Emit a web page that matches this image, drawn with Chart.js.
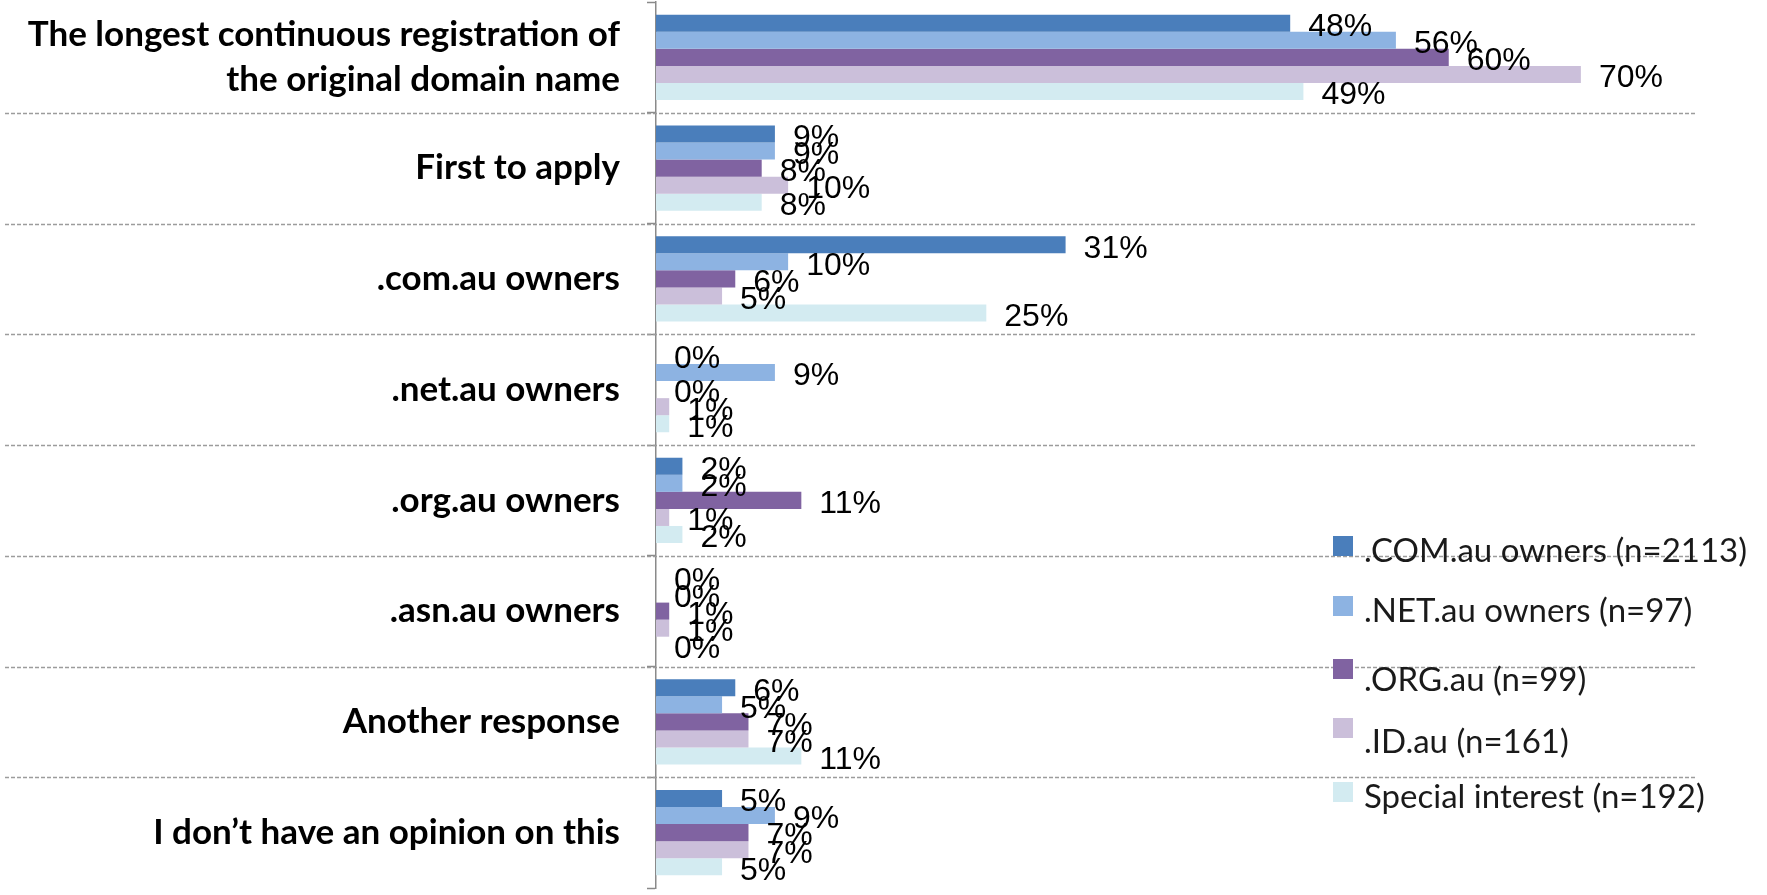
<!DOCTYPE html>
<html>
<head>
<meta charset="utf-8">
<script src="https://cdn.jsdelivr.net/npm/chart.js@4.4.1/dist/chart.umd.min.js"></script>
<style>
  html, body { margin: 0; padding: 0; background: #ffffff; }
  #wrap { position: relative; width: 1767px; height: 895px; overflow: hidden; }
  #chart { position: absolute; left: 0; top: 0; }
  #legend { position: absolute; left: 1333px; top: 0; font-family: Lato, "Open Sans", sans-serif; font-size: 33px; color: #1a1a1a; }
  #legend .row { position: absolute; left: 0; display: flex; align-items: center; height: 60px; white-space: nowrap; }
  #legend .box { width: 20px; height: 20px; margin-right: 11px; flex: none; position: relative; }
  #legend .row:nth-child(1) { top: 519px; }
  #legend .row:nth-child(2) { top: 579px; }
  #legend .row:nth-child(3) { top: 648px; }
  #legend .row:nth-child(4) { top: 710px; }
  #legend .row:nth-child(5) { top: 765px; }
  #legend .row:nth-child(1) .box,
  #legend .row:nth-child(2) .box,
  #legend .row:nth-child(5) .box { top: -3px; }
  #legend .row:nth-child(3) .box { top: -9px; }
  #legend .row:nth-child(4) .box { top: -12px; }
</style>
</head>
<body>
<div id="wrap">
  <canvas id="chart" width="1767" height="895"></canvas>
  <div id="legend"></div>
</div>
<script>
// Survey answers (percent of respondents) per registrant group
const categories = [
  ['The longest continuous registration of', 'the original domain name'],
  'First to apply',
  '.com.au owners',
  '.net.au owners',
  '.org.au owners',
  '.asn.au owners',
  'Another response',
  'I don\u2019t have an opinion on this'
];

const seriesNames = [
  '.COM.au owners (n=2113)',
  '.NET.au owners (n=97)',
  '.ORG.au (n=99)',
  '.ID.au (n=161)',
  'Special interest (n=192)'
];

const comOwners     = [48, 9, 31, 0, 2, 0, 6, 5];
const netOwners     = [56, 9, 10, 9, 2, 0, 5, 9];
const orgOwners     = [60, 8, 6, 0, 11, 1, 7, 7];
const idOwners      = [70, 10, 5, 1, 1, 1, 7, 7];
const specialOwners = [49, 8, 25, 1, 2, 0, 11, 5];

const seriesColors = ['#4a7ebb', '#8db3e2', '#8063a1', '#cbbfda', '#d3ebf1'];

const seriesValues = [comOwners, netOwners, orgOwners, idOwners, specialOwners];

// Dashed separators between the answer groups, running under the labels too
const groupSeparators = {
  id: 'groupSeparators',
  beforeDatasetsDraw(chart) {
    const y = chart.scales.y;
    const ctx = chart.ctx;
    ctx.save();
    ctx.strokeStyle = '#9c9c9c';
    ctx.lineWidth = 1.5;
    ctx.setLineDash([4, 2]);
    for (let i = 1; i < categories.length; i++) {
      const py = Math.round((y.getPixelForValue(i - 1) + y.getPixelForValue(i)) / 2) + 0.5;
      ctx.beginPath();
      ctx.moveTo(5, py);
      ctx.lineTo(chart.chartArea.right - 16, py);
      ctx.stroke();
    }
    ctx.restore();
  }
};

// Percentage labels just right of every bar end
const valueLabels = {
  id: 'valueLabels',
  afterDatasetsDraw(chart) {
    const ctx = chart.ctx;
    ctx.save();
    ctx.font = '32px "Liberation Sans", Arial, sans-serif';
    ctx.fillStyle = '#000000';
    ctx.textAlign = 'left';
    ctx.textBaseline = 'middle';
    chart.data.datasets.forEach((ds, di) => {
      const meta = chart.getDatasetMeta(di);
      meta.data.forEach((bar, i) => {
        ctx.fillText(ds.data[i] + '%', bar.x + 18, bar.y + 4);
      });
    });
    ctx.restore();
  }
};

const chart = new Chart(document.getElementById('chart'), {
  type: 'bar',
  data: {
    labels: categories,
    datasets: seriesNames.map((name, i) => ({
      label: name,
      data: seriesValues[i],
      backgroundColor: seriesColors[i],
      borderWidth: 0,
      categoryPercentage: 0.77,
      barPercentage: 1.0
    }))
  },
  options: {
    indexAxis: 'y',
    responsive: false,
    devicePixelRatio: 1,
    animation: false,
    layout: { padding: { top: 2, bottom: 7, left: 0, right: 54 } },
    plugins: {
      legend: { display: false },
      tooltip: { enabled: false }
    },
    scales: {
      x: {
        display: false,
        min: 0,
        max: 80
      },
      y: {
        afterFit(scale) {
          scale.width = 656;
          scale.paddingTop = 0;
          scale.paddingBottom = 0;
        },
        border: { display: true, color: '#8a8a8a', width: 1.5 },
        grid: {
          offset: true,
          drawOnChartArea: false,
          drawTicks: true,
          tickLength: 9,
          tickColor: '#8a8a8a',
          tickWidth: 1.5
        },
        ticks: {
          padding: 27,
          color: '#000000',
          font: { family: 'Lato, "Open Sans", sans-serif', size: 35, weight: 'bold', lineHeight: 1.3 }
        }
      }
    }
  },
  plugins: [groupSeparators, valueLabels]
});

// Legend built from the same series names and colours
const legendEl = document.getElementById('legend');
seriesNames.forEach((name, i) => {
  const row = document.createElement('div');
  row.className = 'row';
  const box = document.createElement('span');
  box.className = 'box';
  box.style.background = seriesColors[i];
  const txt = document.createElement('span');
  txt.textContent = name;
  row.appendChild(box);
  row.appendChild(txt);
  legendEl.appendChild(row);
});
</script>
</body>
</html>
